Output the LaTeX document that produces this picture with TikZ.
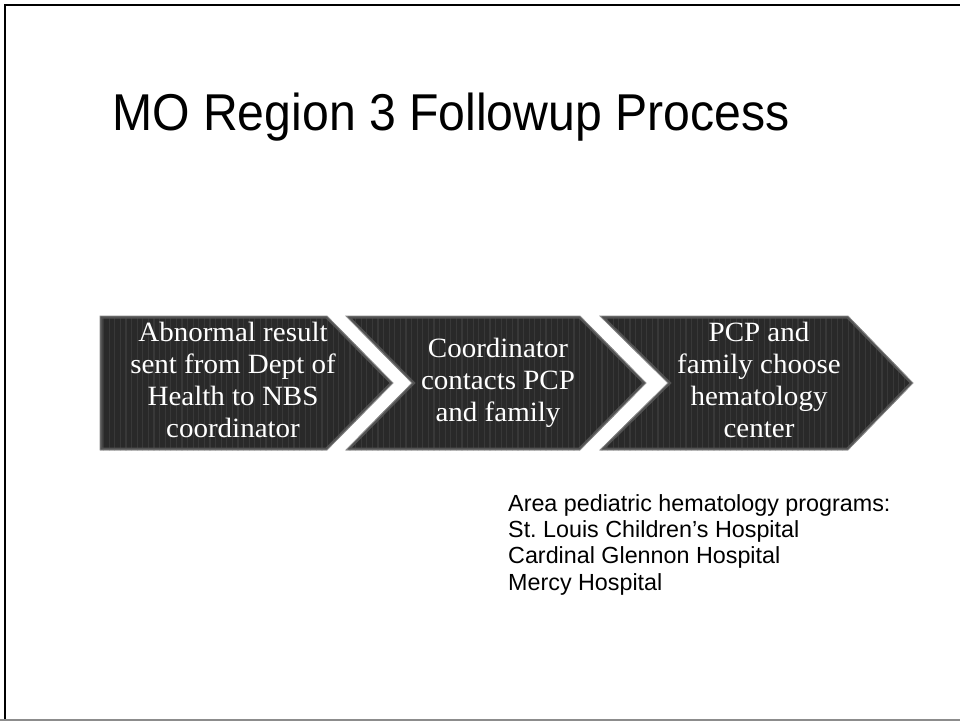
\documentclass[tikz,border=0pt]{standalone}
\usepackage{fontspec}
\newfontfamily\headfont[FakeStretch=0.93]{Liberation Sans}
\newfontfamily\bodyfont{Liberation Sans}
\newfontfamily\stepfont[FakeStretch=1.04]{Liberation Serif}
\frenchspacing
\begin{document}
\begin{tikzpicture}[x=1bp,y=-1bp,
  chevbase/.style={fill=black!84},
  stripe/.style={draw=black!78,line width=1.2bp},
  bevel/.style={draw=black!68,line width=5bp},
  rim/.style={draw=black!45,line width=0.8bp},
  steptext/.style={text=white,anchor=base,inner sep=0pt,
    font=\stepfont\fontsize{28}{32.3}\selectfont},
  headtext/.style={anchor=base west,inner sep=0pt,
    font=\headfont\fontsize{52}{60}\selectfont},
  listtext/.style={anchor=base west,inner sep=0pt,
    font=\bodyfont\fontsize{23.4}{26.5}\selectfont}]
\useasboundingbox (0,0) rectangle (960,721);
% slide frame
\draw[black,line width=2.5bp] (5,721) -- (5,5) -- (960,5);
\draw[black!45,line width=1.5bp] (0,720) -- (960,720);

% title
\node[headtext] (title) at (112,131) {MO Region 3 Followup Process};

% striped, bevelled chevron
\newcommand\stepchevron[1]{%
  \begin{scope}
    \clip #1;
    \fill[chevbase] #1;
    \foreach \sx in {98,103.6,...,920} \draw[stripe] (\sx,310) -- (\sx,456);
    \draw[bevel] #1;
  \end{scope}
  \draw[rim] #1;}

\stepchevron{(100,316) -- (327,316) -- (393,383) -- (327,450) -- (100,450) -- cycle}
\stepchevron{(346,316) -- (580,316) -- (646,383) -- (580,450) -- (346,450) -- (412,383) -- cycle}
\stepchevron{(600,316) -- (848,316) -- (913,383) -- (848,450) -- (600,450) -- (668,383) -- cycle}

\node[steptext] (s1) at (233,341) {\begin{tabular}[t]{@{}c@{}}Abnormal result\\sent from Dept of\\Health to NBS\\coordinator\end{tabular}};
\node[steptext] (s2) at (498,357) {\begin{tabular}[t]{@{}c@{}}Coordinator\\contacts PCP\\and family\end{tabular}};
\node[steptext] (s3) at (759,341) {\begin{tabular}[t]{@{}c@{}}PCP and\\family choose\\hematology\\center\end{tabular}};

% list of hospitals
\node[listtext] (list) at (508,511) {\begin{tabular}[t]{@{}l@{}}Area pediatric hematology programs:\\St. Louis Children’s Hospital\\Cardinal Glennon Hospital\\Mercy Hospital\end{tabular}};
\end{tikzpicture}
\end{document}
